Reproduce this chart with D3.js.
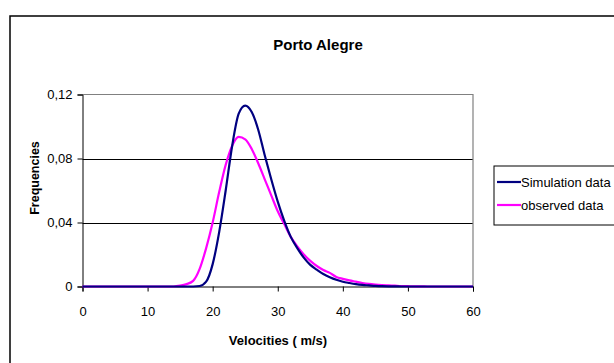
<!DOCTYPE html>
<html>
<head>
<meta charset="utf-8">
<script src="https://cdn.jsdelivr.net/npm/d3@7"></script>
<style>
  body { margin: 0; background: #fff; }
  text { font-family: "Liberation Sans", Arial, sans-serif; fill: #000; }
</style>
</head>
<body>
<svg id="chart" width="614" height="363"></svg>
<script>
// velocities (m/s), one point per 1 m/s
const velocities = d3.range(0, 61);
// Simulation data frequencies
const simulation = [
  0, 0, 0, 0, 0, 0, 0, 0, 0, 0,
  0, 0, 0, 0, 0, 0, 0, 0, 0.0003, 0.003,
  0.014, 0.034, 0.060, 0.088, 0.108, 0.113, 0.109, 0.098, 0.082, 0.067,
  0.053, 0.041, 0.031, 0.024, 0.018, 0.0135, 0.0105, 0.0078, 0.0058, 0.0042,
  0.003, 0.0022, 0.0015, 0.001, 0.0007, 0.0004, 0.0002, 0.0001, 0.0001, 0,
  0, 0, 0, 0, 0, 0, 0, 0, 0, 0, 0
];
// observed data frequencies
const observed = [
  0, 0, 0, 0, 0, 0, 0, 0, 0, 0,
  0, 0, 0, 0, 0, 0.0005, 0.0015, 0.0035, 0.011, 0.024,
  0.040, 0.059, 0.076, 0.088, 0.0935, 0.092, 0.086, 0.077, 0.067, 0.057,
  0.047, 0.039, 0.031, 0.025, 0.020, 0.016, 0.0128, 0.0103, 0.0085, 0.006,
  0.0048, 0.0038, 0.003, 0.0022, 0.0016, 0.0012, 0.0009, 0.0007, 0.0005, 0.0003,
  0.0002, 0.0001, 0.0001, 0, 0, 0, 0, 0, 0, 0, 0
];
const xTicks = [0, 10, 20, 30, 40, 50, 60];
const yTicks = [0, 0.04, 0.08, 0.12];
const seriesNames = ["Simulation data", "observed data"];
const seriesColors = ["#000080", "#ff00ff"];

const svg = d3.select("#chart");
const m = {left: 82.5, right: 473, top: 94.5, bottom: 286.5};

// outer chart frame (runs off right and bottom)
svg.append("rect").attr("x", 10).attr("y", 16).attr("width", 640).attr("height", 400)
  .attr("fill", "none").attr("stroke", "#000").attr("stroke-width", 1.5);

const x = d3.scaleLinear().domain([0, 60]).range([m.left, m.right]);
const y = d3.scaleLinear().domain([0, 0.12]).range([m.bottom, m.top]);
const fmt = d => d === 0 ? "0" : d3.format(".2f")(d).replace(".", ",");

// gridlines
svg.append("g").selectAll("line").data([0.04, 0.08]).join("line")
  .attr("x1", m.left).attr("x2", m.right)
  .attr("y1", d => Math.round(y(d)) + 0.5).attr("y2", d => Math.round(y(d)) + 0.5)
  .attr("stroke", "#000").attr("stroke-width", 1);
// plot area top/right border
svg.append("path")
  .attr("d", `M${m.left},${m.top}H${m.right}V${m.bottom}`)
  .attr("fill", "none").attr("stroke", "#808080").attr("stroke-width", 1.2);

// axes
const xAxis = svg.append("g").attr("transform", `translate(0,${m.bottom})`)
  .call(d3.axisBottom(x).tickValues(xTicks).tickSize(5).tickPadding(15).tickFormat(d3.format("d")));
const yAxis = svg.append("g").attr("transform", `translate(${m.left},0)`)
  .call(d3.axisLeft(y).tickValues(yTicks).tickSize(5).tickPadding(5).tickFormat(fmt));
[xAxis, yAxis].forEach(a => {
  a.select(".domain").attr("stroke", "#000");
  a.selectAll(".tick line").attr("stroke", "#000");
  a.selectAll("text").style("font-family", "Liberation Sans, Arial, sans-serif")
    .style("font-size", "13px").attr("fill", "#000");
});

// lines (observed first, simulation on top)
const line = d3.line().x((d, i) => x(velocities[i])).y(d => y(d)).curve(d3.curveMonotoneX);
[observed, simulation].forEach((s, k) => {
  svg.append("path").datum(s).attr("d", line)
    .attr("fill", "none").attr("stroke", seriesColors[1 - k]).attr("stroke-width", 2.2)
    .attr("stroke-linejoin", "round");
});

// titles
svg.append("text").attr("x", 318).attr("y", 50).attr("text-anchor", "middle")
  .style("font-size", "15px").style("font-weight", "bold").text("Porto Alegre");
svg.append("text").attr("x", 278).attr("y", 345).attr("text-anchor", "middle")
  .style("font-size", "13px").style("font-weight", "bold").text("Velocities ( m/s)");
svg.append("text").attr("transform", "translate(39,178) rotate(-90)").attr("text-anchor", "middle")
  .style("font-size", "12.5px").style("font-weight", "bold").text("Frequencies");

// legend
const lg = svg.append("g");
lg.append("rect").attr("x", 494).attr("y", 166).attr("width", 140).attr("height", 59)
  .attr("fill", "#fff").attr("stroke", "#000").attr("stroke-width", 1);
seriesNames.forEach((n, k) => {
  const ly = 182 + k * 23;
  lg.append("line").attr("x1", 497).attr("x2", 521).attr("y1", ly).attr("y2", ly)
    .attr("stroke", seriesColors[k]).attr("stroke-width", 2.2);
  lg.append("text").attr("x", 521).attr("y", ly + 4.5).style("font-size", "13px").text(n);
});
</script>
</body>
</html>
